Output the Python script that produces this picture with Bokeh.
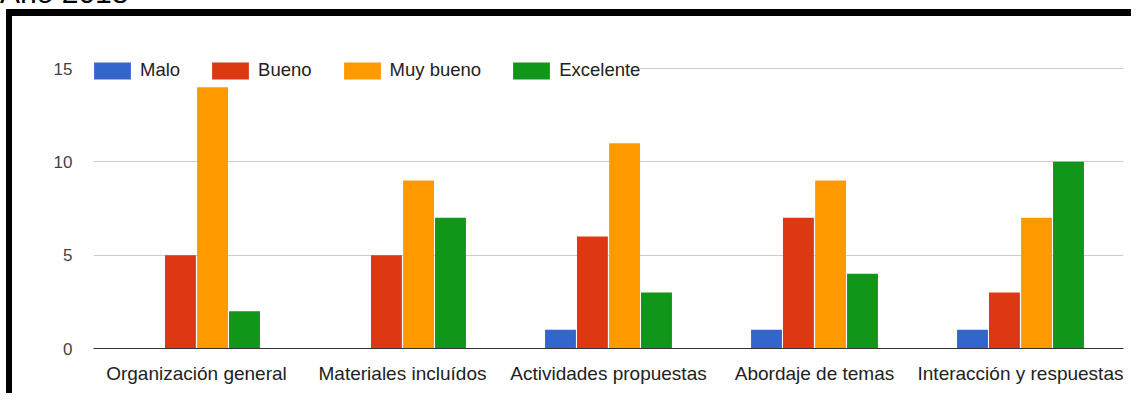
from bokeh.plotting import figure
from bokeh.models import ColumnDataSource, Legend, LegendItem, FixedTicker, Div
from bokeh.layouts import column
from bokeh.transform import dodge
from bokeh.embed import file_html
from bokeh.resources import INLINE

title_text = "Año 2018"
categories = ["Organización general", "Materiales incluídos", "Actividades propuestas",
              "Abordaje de temas", "Interacción y respuestas"]
series_names = ["Malo", "Bueno", "Muy bueno", "Excelente"]
malo = [0, 0, 1, 1, 1]
bueno = [5, 5, 6, 7, 3]
muy_bueno = [14, 9, 11, 9, 7]
excelente = [2, 7, 3, 4, 10]
y_ticks = [0, 5, 10, 15]

colors = ["#3366cc", "#dc3912", "#ff9900", "#109618"]
offsets = [-0.233, -0.078, 0.078, 0.233]
keys = ["malo", "bueno", "muy_bueno", "excelente"]

source = ColumnDataSource(dict(cat=categories, malo=malo, bueno=bueno,
                               muy_bueno=muy_bueno, excelente=excelente))

p = figure(x_range=categories, y_range=(0, 15.643), width=1125, height=384,
           output_backend="svg", toolbar_location=None,
           min_border_left=81, min_border_right=14, min_border_top=40, min_border_bottom=52)
p.styles = {"border-left": "6px solid black", "border-top": "7px solid black",
            "margin-left": "6px"}
p.margin = 0
p.outline_line_color = None
p.background_fill_color = "white"

renderers = []
for k, c, off in zip(keys, colors, offsets):
    r = p.vbar(x=dodge("cat", off, range=p.x_range), top=k, width=0.15, source=source,
               fill_color=c, line_color=None)
    renderers.append(r)

p.xgrid.grid_line_color = None
p.ygrid.grid_line_color = "#cccccc"
p.yaxis.ticker = FixedTicker(ticks=y_ticks)
p.yaxis.axis_line_color = None
p.yaxis.major_tick_line_color = None
p.yaxis.minor_tick_line_color = None
p.yaxis.major_label_text_font = "Liberation Sans"
p.yaxis.major_label_text_font_size = "17px"
p.yaxis.major_label_text_color = "#444444"
p.yaxis.major_label_standoff = 15

p.xaxis.axis_line_color = "#333333"
p.xaxis.axis_line_width = 1
p.xaxis.major_tick_line_color = None
p.xaxis.minor_tick_line_color = None
p.xaxis.major_label_text_font = "Liberation Sans"
p.xaxis.major_label_text_font_size = "19px"
p.xaxis.major_label_text_color = "#222222"
p.xaxis.major_label_standoff = 8

legend = Legend(items=[LegendItem(label=n, renderers=[r]) for n, r in zip(series_names, renderers)],
                orientation="horizontal", location=(-4, 267))
legend.glyph_width = 46
legend.glyph_height = 21
legend.label_height = 21
legend.label_text_font = "Liberation Sans"
legend.label_text_font_size = "18.5px"
legend.label_text_color = "#222222"
legend.label_text_baseline = "middle"
legend.label_standoff = 5
legend.spacing = 27
legend.padding = 0
legend.margin = 0
legend.border_line_color = None
legend.background_fill_color = "white"
legend.background_fill_alpha = 1
p.add_layout(legend, "center")

title = Div(text='<div style="font-family: \'Liberation Sans\'; font-size: 30px; line-height: 30px; '
                 'position: relative; top: -22px; color: black; white-space: nowrap;">' + title_text + '</div>',
            width=300, height=9, margin=0, styles={"overflow": "visible"})

layout = column(title, p, spacing=0)
open("out.html", "w").write(file_html(layout, INLINE))
